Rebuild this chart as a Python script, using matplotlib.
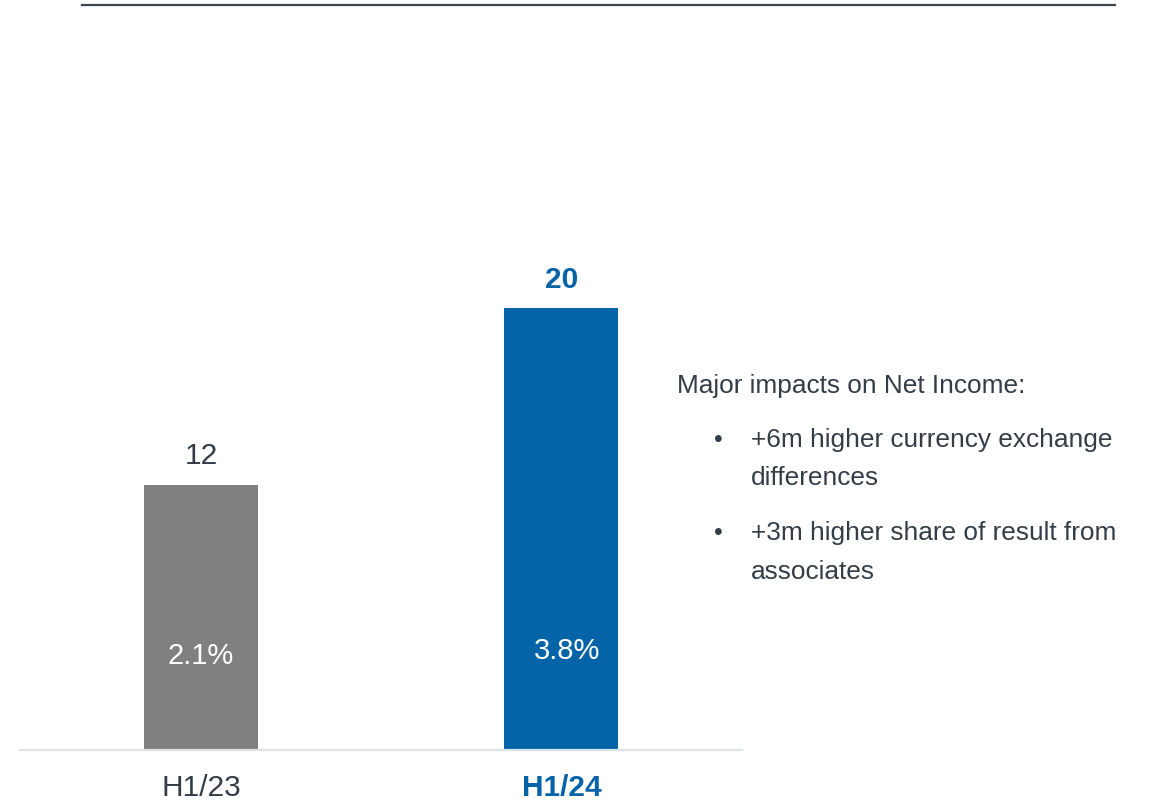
import matplotlib
matplotlib.use("Agg")
import matplotlib.pyplot as plt
from matplotlib import font_manager
from matplotlib.lines import Line2D

# Data
periods = ["H1/23", "H1/24"]
net_income = [12, 20]
margins = ["2.1%", "3.8%"]
headline = "Major impacts on Net Income:"
bullets = [
    ["+6m higher currency exchange", "differences"],
    ["+3m higher share of result from", "associates"],
]

# Styling
BLUE = "#0563a8"
GREY = "#808080"
TEXT = "#333d47"
bar_colors = [GREY, BLUE]
value_colors = [TEXT, BLUE]
value_weights = ["normal", "bold"]

installed = {f.name for f in font_manager.fontManager.ttflist}
BASE_FONT = "Liberation Sans" if "Liberation Sans" in installed else "DejaVu Sans"
NARROW_FONT = "Liberation Sans Narrow" if "Liberation Sans Narrow" in installed else BASE_FONT
plt.rcParams["font.family"] = [BASE_FONT, "DejaVu Sans"]
cat_size = 24 if NARROW_FONT != BASE_FONT else 21.5

W, H, DPI = 1150, 802, 100
fig = plt.figure(figsize=(W / DPI, H / DPI), dpi=DPI)


def fx(px):
    return px / W


def fy(py):
    return 1 - py / H


# Axes: left 20px, right 742px, baseline at y=750px, top at y=50px
ax = fig.add_axes([fx(20), fy(750), fx(742 - 20), (750 - 50) / H])
x = list(range(len(periods)))
ax.bar(x, net_income, width=0.316, color=bar_colors, zorder=2)
ax.set_xlim(-0.502, 1.501)
ax.set_ylim(0, 700 / 22.1)
ax.set_xticks([])
ax.set_yticks([])
for side in ["top", "left", "right"]:
    ax.spines[side].set_visible(False)
ax.spines["bottom"].set_color("#dde3ea")
ax.spines["bottom"].set_linewidth(1.6)
ax.spines["bottom"].set_zorder(3)

# Value labels above bars
for xi, v, c, w in zip(x, net_income, value_colors, value_weights):
    ax.annotate(f"{v}", xy=(xi, v), xytext=(0, 20.5), textcoords="offset points",
                ha="center", va="center", fontsize=21.5, color=c, fontweight=w)

# Margin labels inside bars
margin_offsets = [(0, 68), (4, 71)]
for xi, m, off in zip(x, margins, margin_offsets):
    ax.annotate(m, xy=(xi, 0), xytext=off, textcoords="offset points",
                ha="center", va="center", fontsize=21, color="white")

# Category labels
for xi, p, c, w in zip(x, periods, value_colors, value_weights):
    ax.annotate(p, xy=(xi, 0), xytext=(0, -27.5), textcoords="offset points",
                ha="center", va="center", fontsize=cat_size, color=c, fontweight=w,
                family=[NARROW_FONT, "DejaVu Sans"], annotation_clip=False)

# Top rule
fig.add_artist(Line2D([fx(82), fx(1115)], [fy(5), fy(5)], color="#3d4751",
                      linewidth=1.6, transform=fig.transFigure))

# Commentary
fig.text(fx(677), fy(386), headline, ha="left", va="center", fontsize=18.9, color=TEXT)
line_y = [[440, 478], [533, 572]]
for lines, ys in zip(bullets, line_y):
    fig.text(fx(718), fy(ys[0]), "\u2022", ha="center", va="center", fontsize=18, color=TEXT)
    for t, yy in zip(lines, ys):
        fig.text(fx(751), fy(yy), t, ha="left", va="center", fontsize=18.9, color=TEXT)

fig.savefig("out.png", dpi=DPI, facecolor="white")
